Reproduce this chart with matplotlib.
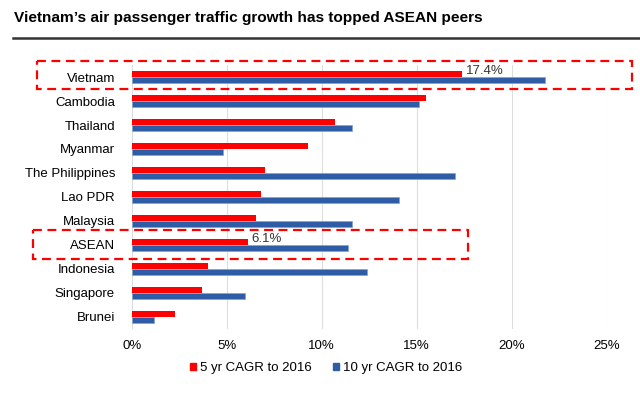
import numpy as np
import matplotlib
matplotlib.use("Agg")
from matplotlib import pyplot as plt
from matplotlib.patches import Rectangle
from matplotlib.lines import Line2D
from matplotlib.ticker import FuncFormatter

plt.rcParams['font.family'] = ['Liberation Sans', 'DejaVu Sans']

countries = ["Vietnam", "Cambodia", "Thailand", "Myanmar", "The Philippines",
             "Lao PDR", "Malaysia", "ASEAN", "Indonesia", "Singapore", "Brunei"]
cagr_5yr = [17.4, 15.5, 10.7, 9.3, 7.0, 6.8, 6.55, 6.1, 4.0, 3.7, 2.3]
cagr_10yr = [21.75, 15.1, 11.6, 4.8, 17.0, 14.05, 11.6, 11.4, 12.4, 5.95, 1.15]
xticks = [0, 5, 10, 15, 20, 25]

RED = "#FF0000"
BLUE = "#2E5DA6"

fig = plt.figure(figsize=(6.4, 4.04), dpi=100)
ax = fig.add_axes([0.2058, 0.186, 0.742, 0.653])

y = np.arange(len(countries))
h = 0.26
ax.barh(y - h / 2, cagr_5yr, height=h, color=RED, zorder=3)
ax.barh(y + h / 2, cagr_10yr, height=h, color=BLUE, edgecolor="#7FA3D6",
        linewidth=0.5, zorder=3)

ax.set_ylim(len(countries) - 0.5, -0.5)
ax.set_xlim(0, 25)
ax.set_yticks(y)
ax.set_yticklabels(countries, fontsize=9.5)
ax.set_xticks(xticks)
ax.xaxis.set_major_formatter(FuncFormatter(lambda v, p: f"{v:.0f}%"))
ax.tick_params(axis='x', labelsize=9.5, length=0, pad=8)
ax.tick_params(axis='y', length=0, pad=12)
ax.grid(axis='x', color="#DDDDDD", linewidth=0.8, zorder=0)
for s in ax.spines.values():
    s.set_visible(False)

# value labels for highlighted rows
for name in ["Vietnam", "ASEAN"]:
    i = countries.index(name)
    ax.text(cagr_5yr[i] + 0.2, i - 0.26, f"{cagr_5yr[i]:.1f}%", fontsize=9.5,
            va='center', ha='left', color="#333333", zorder=4)

# dashed highlight boxes
i = countries.index("Vietnam")
ax.add_patch(Rectangle((-5.0, i - 0.667), 31.33, 1.167, fill=False, ec=RED,
                       ls=(0, (4, 2.5)), lw=1.6, clip_on=False, zorder=5))
i = countries.index("ASEAN")
ax.add_patch(Rectangle((-5.2, i - 0.625), 22.9, 1.2, fill=False, ec=RED,
                       ls=(0, (4, 2.5)), lw=1.6, clip_on=False, zorder=5))

# title and rule
fig.text(0.022, 0.955, "Vietnam\u2019s air passenger traffic growth has topped ASEAN peers",
         fontsize=11.1, fontweight='bold', va='center', ha='left')
fig.add_artist(Line2D([0.02, 1.0], [0.906, 0.906], color="#333333", lw=1.8))

handles = [Rectangle((0, 0), 1, 1, color=RED), Rectangle((0, 0), 1, 1, color=BLUE)]
fig.legend(handles, ["5 yr CAGR to 2016", "10 yr CAGR to 2016"], loc='center',
           bbox_to_anchor=(0.51, 0.089), ncol=2, frameon=False, fontsize=9.5,
           handlelength=0.45, handleheight=0.45, handletextpad=0.3, columnspacing=1.6)

fig.savefig("out.png", dpi=100)
